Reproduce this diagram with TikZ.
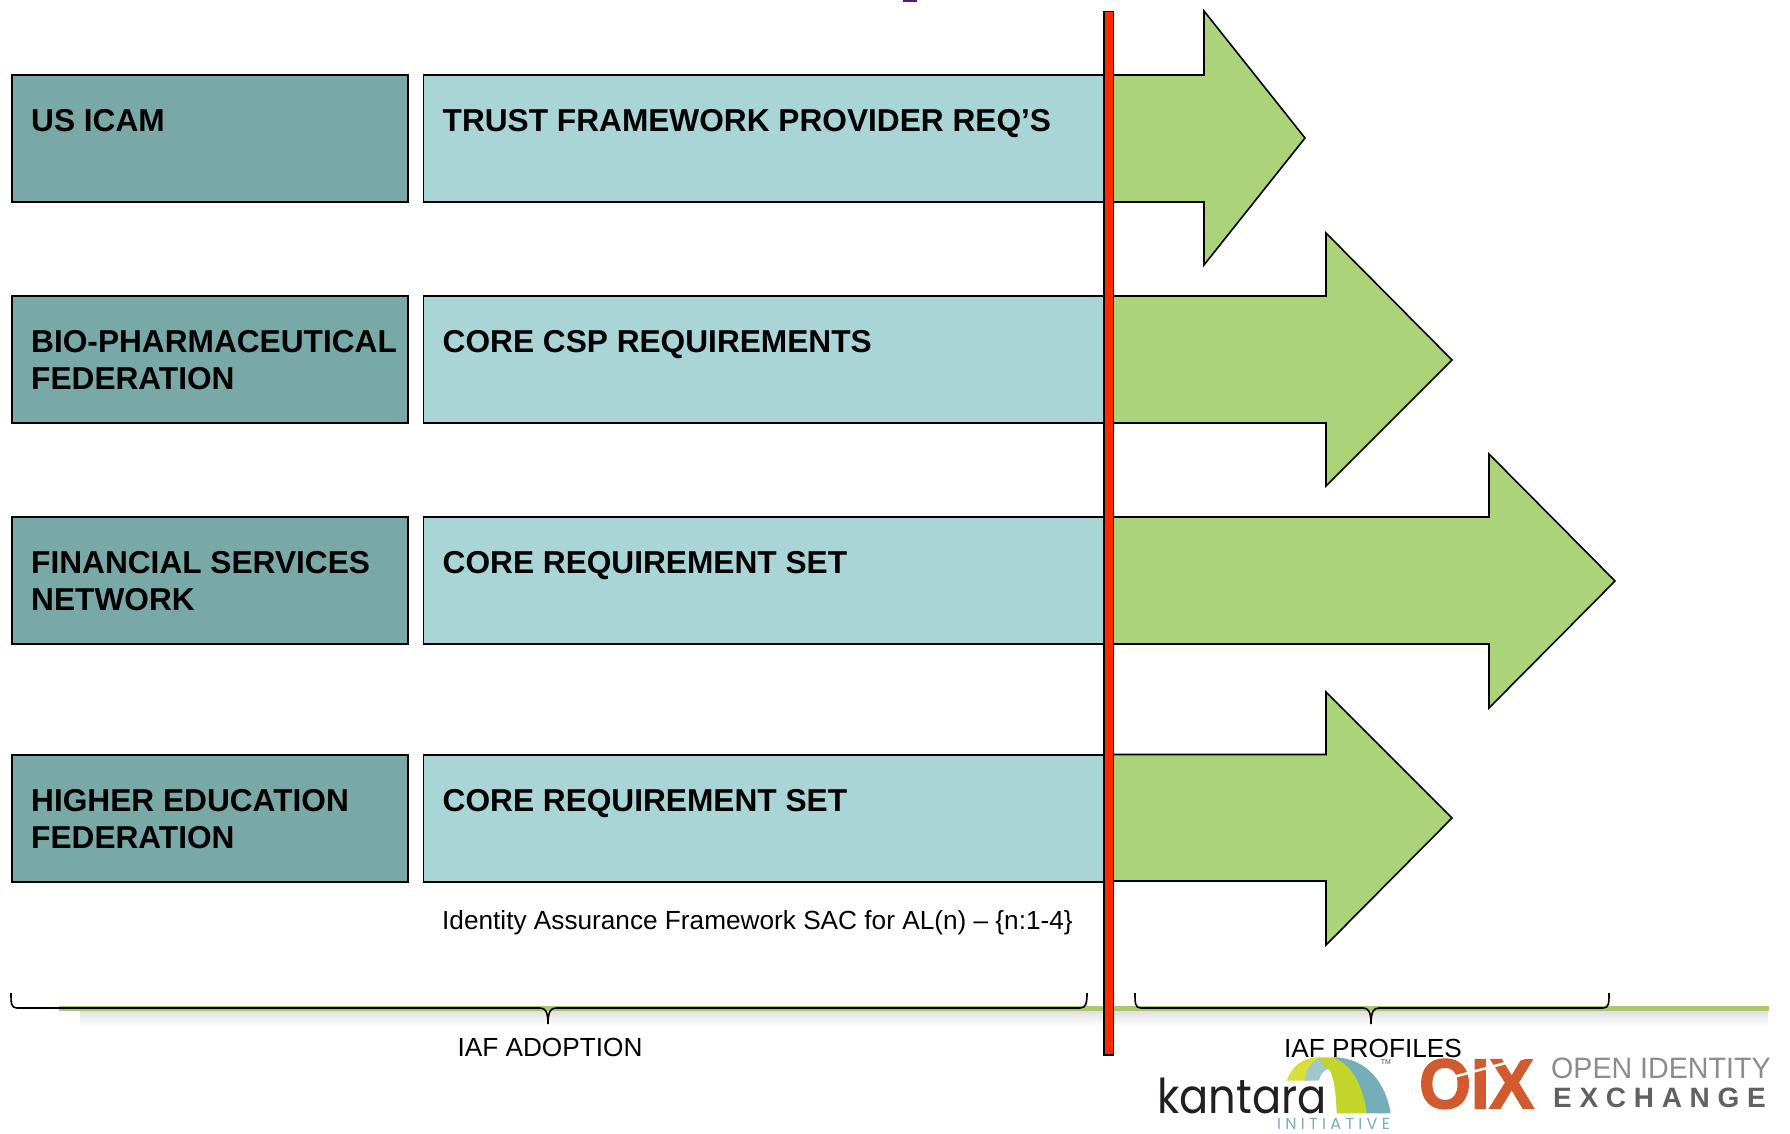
\documentclass[tikz,border=0pt]{standalone}
\usepackage{fontspec}
\setmainfont{Liberation Sans}
\newfontfamily\kanfont{Poppins}
\newfontfamily\oixfont[FakeBold=2.5]{Liberation Sans}
\definecolor{darkteal}{HTML}{78A9A7}
\definecolor{lightteal}{HTML}{A9D5D6}
\definecolor{arrowgreen}{HTML}{AAD37A}
\definecolor{barred}{HTML}{FF2A00}
\definecolor{linegreen}{HTML}{AAC671}
\definecolor{oixorange}{HTML}{D15A2E}
\tikzset{
 orgbox/.style={draw=black,line width=1.6pt,fill=darkteal,minimum width=396pt,minimum height=127pt,anchor=north west,inner sep=0},
 reqbox/.style={draw=black,line width=1.6pt,fill=lightteal,minimum width=690pt,minimum height=127pt,anchor=north west,inner sep=0},
 boxtext/.style={anchor=north west,inner sep=0,align=left,font=\fontsize{31.65}{37}\selectfont\bfseries,text=black},
 flowarrow/.style={draw=black,line width=1.6pt,fill=arrowgreen,line join=miter},
 brace/.style={draw=black,line width=1.6pt},
 plainlabel/.style={inner sep=0,font=\fontsize{26.2}{30}\selectfont,text=black},
}
\begin{document}
\begin{tikzpicture}[x=1pt,y=-1pt]
\useasboundingbox (0,0) rectangle (1790,1133);
\fill[white] (0,0) rectangle (1790,1133);
\fill[color={rgb,255:red,75;green,30;blue,140}] (903,0) rectangle (917,2);
% boxes
\foreach \n/\y in {1/74,2/295,3/516,4/754}{
  \node[orgbox] (org\n) at (11,\y) {};
  \node[reqbox] (req\n) at (422.5,\y) {};
}
\node[boxtext] at ([shift={(20,35.5)}]org1.north west) {US ICAM};
\node[boxtext] at ([shift={(20,35.5)}]org2.north west) {BIO-PHARMACEUTICAL\\FEDERATION};
\node[boxtext] at ([shift={(20,35.5)}]org3.north west) {FINANCIAL SERVICES\\NETWORK};
\node[boxtext] at ([shift={(20,35.5)}]org4.north west) {HIGHER EDUCATION\\FEDERATION};
\node[boxtext] at ([shift={(20,35.5)}]req1.north west) {TRUST FRAMEWORK PROVIDER REQ’S};
\node[boxtext] at ([shift={(20,35.5)}]req2.north west) {CORE CSP REQUIREMENTS};
\node[boxtext] at ([shift={(20,35.5)}]req3.north west) {CORE REQUIREMENT SET};
\node[boxtext] at ([shift={(20,35.5)}]req4.north west) {CORE REQUIREMENT SET};
% arrows
\draw[flowarrow] (1109,75) -- (1204,75) -- (1204,11) -- (1305,138) -- (1204,265) -- (1204,202) -- (1109,202);
\draw[flowarrow] (1109,296) -- (1326,296) -- (1326,233) -- (1452,360) -- (1326,486) -- (1326,423) -- (1109,423);
\draw[flowarrow] (1109,517) -- (1489,517) -- (1489,454) -- (1615,581) -- (1489,708) -- (1489,644) -- (1109,644);
\draw[flowarrow] (1109,754.5) -- (1326,754.5) -- (1326,692) -- (1452,818) -- (1326,945) -- (1326,881) -- (1109,881);
% label
\node[plainlabel,anchor=base west] at (442,929) {Identity Assurance Framework SAC for AL(n) – \{n:1-4\}};
% shadow and green line
\shade[top color=black!12,bottom color=white,draw=none] (80,1011) rectangle (1768,1026);
\fill[linegreen] (59,1005.5) rectangle (1769,1011);
% braces
\draw[brace] (11,993) .. controls (11,1003) and (11,1008) .. (17,1008) -- (540,1008) .. controls (545,1008) and (548,1011) .. (548,1024) .. controls (548,1011) and (551,1008) .. (556,1008) -- (1080,1008) .. controls (1086,1008) and (1087,1003) .. (1087,993);
\draw[brace] (1135,993) .. controls (1135,1003) and (1135,1008) .. (1141,1008) -- (1363,1008) .. controls (1368,1008) and (1371,1011) .. (1371,1024) .. controls (1371,1011) and (1374,1008) .. (1379,1008) -- (1603,1008) .. controls (1609,1008) and (1609,1003) .. (1609,993);
\node[plainlabel,anchor=base] at (550,1056) {IAF ADOPTION};
\node[plainlabel,anchor=base] at (1373,1057) {IAF PROFILES};
% bar
\draw[draw=black,line width=1.4pt,fill=barred] (1104,11.5) rectangle (1113.5,1055);
% kantara logo
\begin{scope}[shift={(1150,1040)},x=0.3333pt,y=-0.3333pt]
\fill[color={rgb,255:red,217;green,222;blue,58}] (410,122) .. controls (425,80) and (455,52) .. (510,52) -- (480,122) -- cycle;
\fill[color={rgb,255:red,160;green,199;blue,204}] (465,122) .. controls (468,85) and (485,62) .. (510,56) -- (540,85) .. controls (520,90) and (510,105) .. (507,122) -- cycle;
\fill[color={rgb,255:red,194;green,213;blue,42}] (505,52) -- (560,52) .. controls (610,65) and (642,130) .. (652,220) -- (560,220) .. controls (558,150) and (548,85) .. (530,85) -- cycle;
\fill[color={rgb,255:red,116;green,174;blue,184}] (550,52) .. controls (650,52) and (708,130) .. (722,220) -- (650,220) .. controls (640,130) and (600,70) .. (550,52) -- cycle;
\end{scope}
\node[inner sep=0,anchor=base west,font=\kanfont\fontsize{48}{48}\selectfont,text={rgb,255:red,35;green,31;blue,32}] at (1157,1113.5) {\scalebox{.9}[1]{kantara}};
\node[inner sep=0,anchor=base west,font=\kanfont\fontsize{16}{16}\selectfont,text={rgb,255:red,116;green,174;blue,184}] at (1277,1129) {I\kern4.3pt N\kern4.3pt I\kern4.3pt T\kern4.3pt I\kern4.3pt A\kern4.3pt T\kern4.3pt I\kern4.3pt V\kern4.3pt E};
\node[inner sep=0,anchor=base,font=\fontsize{7}{8}\selectfont,text=black!70] at (1386,1064) {TM};
% oix logo
\node[inner sep=0,anchor=base west,font=\oixfont\bfseries\fontsize{70}{70}\selectfont,text=oixorange] at (1419,1108) {\scalebox{.95}[1]{OIX}};
\draw[white,line width=2.5pt] (1453,1077) -- (1532,1056);
\node[inner sep=0,anchor=base west,font=\fontsize{29.5}{30}\selectfont,text=black!45] at (1551,1078) {\scalebox{.97}[1]{OPEN IDENTITY}};
\node[inner sep=0,anchor=base west,font=\bfseries\fontsize{28}{29}\selectfont,text=black!62] at (1553,1107) {E\kern7.7pt X\kern7.7pt C\kern7.7pt H\kern7.7pt A\kern7.7pt N\kern7.7pt G\kern7.7pt E};
\end{tikzpicture}
\end{document}
